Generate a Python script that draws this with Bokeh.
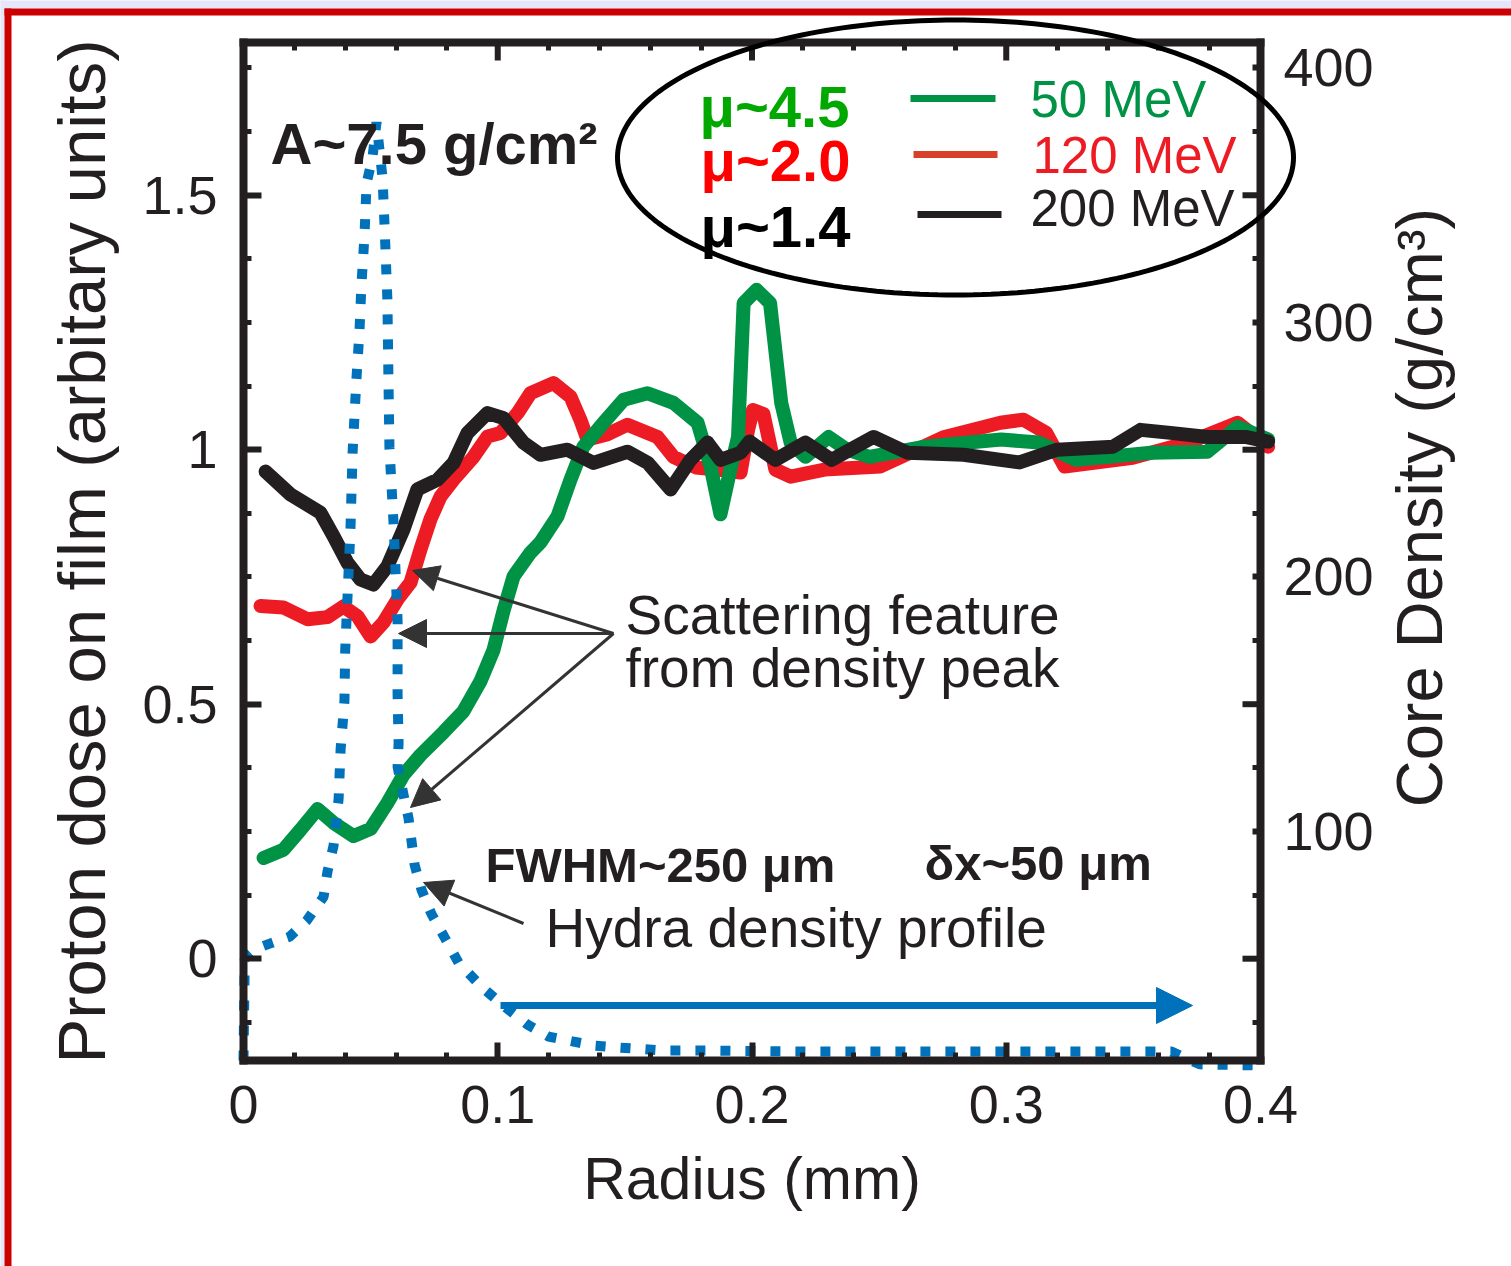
import numpy as np
from bokeh.plotting import figure
from bokeh.models import (Range1d, LinearAxis, FixedTicker, BoxAnnotation, PolyAnnotation,
                          Arrow, NormalHead, Label)
from bokeh.embed import file_html
from bokeh.resources import INLINE

# ---------------- data ----------------
radius_50 = [0.0079, 0.0157, 0.0224, 0.0291, 0.0354, 0.0433, 0.050, 0.0566, 0.0629, 0.0696,
             0.0787, 0.0865, 0.0932, 0.0983, 0.1023, 0.1062, 0.1129, 0.1168, 0.1235, 0.1286,
             0.1337, 0.1416, 0.1495, 0.1589, 0.1691, 0.1786, 0.1837, 0.1876, 0.1915, 0.1945,
             0.1967, 0.2018, 0.2071, 0.2115, 0.2152, 0.221, 0.2301, 0.2374, 0.2462, 0.268,
             0.298, 0.3127, 0.3275, 0.357, 0.379, 0.391, 0.403]
dose_50 = [0.198, 0.214, 0.253, 0.294, 0.267, 0.241, 0.255, 0.306, 0.361, 0.400,
           0.445, 0.486, 0.545, 0.606, 0.684, 0.751, 0.798, 0.818, 0.869, 0.941,
           1.006, 1.053, 1.098, 1.111, 1.092, 1.053, 0.967, 0.873, 0.961, 1.025,
           1.288, 1.314, 1.288, 1.092, 1.014, 0.986, 1.025, 1.000, 0.986, 1.006,
           1.020, 1.014, 0.980, 0.994, 0.996, 1.045, 1.020]

radius_120 = [0.0067, 0.0157, 0.0252, 0.033, 0.0393, 0.0448, 0.050, 0.0551, 0.0606, 0.0657,
              0.0696, 0.0735, 0.0775, 0.0826, 0.0905, 0.096, 0.1011, 0.1078, 0.1129, 0.1219,
              0.1286, 0.1325, 0.1353, 0.1430, 0.151, 0.1628, 0.1691, 0.1780, 0.1880, 0.1955,
              0.1985, 0.2004, 0.2045, 0.2092, 0.2152, 0.2285, 0.2505, 0.2757, 0.2977, 0.3068,
              0.3157, 0.3229, 0.3497, 0.3717, 0.391, 0.403]
dose_120 = [0.693, 0.690, 0.667, 0.671, 0.692, 0.673, 0.633, 0.661, 0.706, 0.739,
            0.804, 0.863, 0.908, 0.941, 0.986, 1.026, 1.033, 1.072, 1.111, 1.131,
            1.104, 1.059, 1.020, 1.030, 1.049, 1.025, 0.986, 0.965, 0.960, 0.955,
            1.040, 1.078, 1.070, 0.961, 0.947, 0.961, 0.967, 1.025, 1.053, 1.059,
            1.033, 0.967, 0.984, 1.014, 1.053, 1.006]

radius_200 = [0.0087, 0.0185, 0.0303, 0.0354, 0.0409, 0.046, 0.0511, 0.0566, 0.0629, 0.0684,
              0.0763, 0.0826, 0.0881, 0.096, 0.1023, 0.1101, 0.1168, 0.1274, 0.1377, 0.151,
              0.159, 0.168, 0.1758, 0.1825, 0.1876, 0.1955, 0.199, 0.2092, 0.221, 0.2313,
              0.2478, 0.2612, 0.2832, 0.3052, 0.320, 0.342, 0.3528, 0.3646, 0.3792, 0.394, 0.403]
dose_200 = [0.957, 0.912, 0.876, 0.830, 0.778, 0.745, 0.735, 0.771, 0.843, 0.922,
            0.941, 0.974, 1.033, 1.072, 1.062, 1.014, 0.990, 1.000, 0.974, 0.996,
            0.974, 0.922, 0.980, 1.014, 0.980, 0.994, 1.016, 0.980, 1.014, 0.980,
            1.025, 0.994, 0.990, 0.975, 1.000, 1.006, 1.039, 1.033, 1.025, 1.025, 1.016]

hydra_r = [0.0, 0.0005, 0.0047, 0.0114, 0.0181, 0.0248, 0.0315, 0.0330, 0.0354, 0.0374,
           0.0382, 0.0397, 0.0400, 0.0421, 0.0429, 0.0444, 0.0456, 0.0464, 0.0476, 0.0484,
           0.0507, 0.0523, 0.0547, 0.0555, 0.0566, 0.0570, 0.0574, 0.0590, 0.0606, 0.0606,
           0.0610, 0.0606, 0.0649, 0.0673, 0.0700, 0.0739, 0.0794, 0.0846, 0.0940, 0.1027,
           0.1117, 0.1200, 0.1294, 0.1377, 0.1475, 0.1652, 0.1829, 0.2200, 0.2700, 0.3200,
           0.3650, 0.3760, 0.4020]
hydra_rho = [10.0, 50.0, 53.9, 56.3, 58.6, 64.9, 74.3, 84.1, 94.3, 112.7,
             132.4, 151.2, 171.2, 219.8, 248.8, 277.5, 296.3, 315.1, 334.3, 354.7,
             364.5, 378.6, 356.7, 337.5, 308.8, 278.6, 250.8, 221.4, 182.9, 153.9,
             134.7, 125.3, 105.3, 86.9, 77.1, 67.6, 57.8, 48.4, 38.6, 31.2,
             24.1, 19.4, 17.5, 15.9, 15.1, 13.9, 13.9, 13.5, 13.5, 13.5,
             13.5, 8.5, 8.0]

energy_labels = ["50 MeV", "120 MeV", "200 MeV"]
mu_labels = ["\u03bc~4.5", "\u03bc~2.0", "\u03bc~1.4"]

x_ticks = [0, 0.1, 0.2, 0.3, 0.4]
x_tick_labels = ["0", "0.1", "0.2", "0.3", "0.4"]
y_ticks = [0, 0.5, 1, 1.5]
y_tick_labels = ["0", "0.5", "1", "1.5"]
rho_ticks = [100, 200, 300, 400]
rho_tick_labels = ["100", "200", "300", "400"]
rho_long_ticks = [50, 150, 250, 350]

# ---------------- style ----------------
INK = "#231F20"
GREEN = "#009245"
RED = "#ED1C24"
BLUE = "#0072BC"
FONT = "Liberation Sans"

W, H = 1511, 1266
FL, FR, FT, FB = 243, 1260, 42, 1060     # pixel box of the axes
X0, X1 = 0.0, 0.4
Y0, Y1 = -0.2, 1.8
R0, R1 = 10.0, 410.0                     # core density range on the right

SX = (X1 - X0) / (FR - FL)
SY = (Y1 - Y0) / (FB - FT)
XS, XE = X0 - FL * SX, X1 + (W - FR) * SX
YS, YE = Y0 - (H - FB) * SY, Y1 + FT * SY
RS = R0 + (YS - Y0) / (Y1 - Y0) * (R1 - R0)
RE = R0 + (YE - Y0) / (Y1 - Y0) * (R1 - R0)


def dx(px):
    return XS + px * SX


def dy(py):
    return YE - py * SY


p = figure(width=W, height=H, x_range=Range1d(XS, XE), y_range=Range1d(YS, YE),
           output_backend="svg", toolbar_location=None,
           x_axis_location=None, y_axis_location=None,
           min_border=0, min_border_left=0, min_border_right=0,
           min_border_top=0, min_border_bottom=0,
           background_fill_color="white", border_fill_color="white",
           outline_line_color=None)
p.extra_y_ranges = {"rho": Range1d(RS, RE)}
p.xgrid.visible = False
p.ygrid.visible = False


def style_axis(ax, major_in, minor_in, standoff):
    ax.axis_line_width = 8
    ax.axis_line_color = INK
    ax.axis_line_cap = "square"
    ax.major_tick_line_width = 6
    ax.major_tick_line_color = INK
    ax.minor_tick_line_width = 5
    ax.minor_tick_line_color = INK
    ax.major_tick_in = major_in
    ax.major_tick_out = 0
    ax.minor_tick_in = minor_in
    ax.minor_tick_out = 0
    ax.major_label_text_font = FONT
    ax.major_label_text_font_size = "54px"
    ax.major_label_text_color = INK
    ax.major_label_standoff = standoff
    ax.axis_label_text_font = FONT
    ax.axis_label_text_font_style = "normal"
    ax.axis_label_text_color = INK


x_minor = [round(0.02 * i, 2) for i in range(21) if i % 5]
y_minor = [-0.125 + 0.125 * i for i in range(16) if (i - 1) % 4]
rho_minor = [25 * i for i in range(1, 17) if i % 4]

bottom = LinearAxis(fixed_location=Y0, bounds=(X0, X1),
                    ticker=FixedTicker(ticks=x_ticks, minor_ticks=x_minor),
                    major_label_overrides=dict(zip(x_ticks, x_tick_labels)),
                    axis_label="Radius (mm)")
style_axis(bottom, 18, 8, 25)
bottom.axis_label_text_font_size = "59px"
bottom.axis_label_standoff = 20
p.add_layout(bottom, "below")

left = LinearAxis(fixed_location=X0, bounds=(Y0, Y1),
                  ticker=FixedTicker(ticks=y_ticks, minor_ticks=y_minor),
                  major_label_overrides=dict(zip(y_ticks, y_tick_labels)),
                  axis_label="Proton dose on film (arbitary units)")
style_axis(left, 18, 8, 26)
left.axis_label_text_font_size = "67px"
left.axis_label_standoff = 20
p.add_layout(left, "left")

# top axis: only tick marks (all drawn as minor ticks + long ticks below)
top = LinearAxis(fixed_location=Y1, bounds=(X0, X1),
                 ticker=FixedTicker(ticks=[], minor_ticks=x_minor))
style_axis(top, 18, 8, 0)
p.add_layout(top, "above")
p.segment(x0=x_ticks, x1=x_ticks, y0=[Y1] * len(x_ticks),
          y1=[Y1 - 18 * SY] * len(x_ticks), line_color=INK, line_width=6)

right = LinearAxis(y_range_name="rho", fixed_location=X1, bounds=(R0, R1),
                   ticker=FixedTicker(ticks=rho_ticks, minor_ticks=rho_minor),
                   major_label_overrides=dict(zip(rho_ticks, rho_tick_labels)))
style_axis(right, 8, 8, 23)
p.add_layout(right, "right")
# long mirrored ticks on the right axis
p.segment(x0=[X1 - 18 * SX] * len(rho_long_ticks), x1=[X1] * len(rho_long_ticks),
          y0=rho_long_ticks, y1=rho_long_ticks, y_range_name="rho",
          line_color=INK, line_width=6)

# ---------------- page frame (lavender edge + red border) ----------------
for l, r, t, b, c in [(-2, W + 50, -2, 8, "#E6E6FA"), (-2, 4, -2, H + 50, "#E6E6FA"),
                      (4, W + 50, 8, 15, "#CC0000"), (4, 11, 8, H + 50, "#CC0000")]:
    p.add_layout(BoxAnnotation(left=dx(l), right=dx(r), top=dy(t), bottom=dy(b),
                               fill_color=c, fill_alpha=1.0, line_color=None,
                               level="overlay"))

# ---------------- text annotations ----------------
BASE_SHIFT = 0.38   # baseline correction (in em) for Label placement


def add_label(px, py, text, size, color=INK, bold=False):
    p.add_layout(Label(x=dx(px), y=dy(py - BASE_SHIFT * size), text=text, text_font=FONT,
                       text_font_size=f"{size}px", text_color=color,
                       text_font_style="bold" if bold else "normal",
                       text_baseline="alphabetic", text_align="left", level="glyph"))


add_label(270, 165, "A~7.5 g/cm\u00b2", 58, bold=True)
add_label(625, 635, "Scattering feature", 55)
add_label(625, 688, "from density peak", 55)
add_label(485, 883, "FWHM~250 \u03bcm", 49, bold=True)
add_label(924, 881, "\u03b4x~50 \u03bcm", 49, bold=True)
add_label(545, 948, "Hydra density profile", 55)

# ---------------- curves ----------------
p.line(radius_120, dose_120, line_color=RED, line_width=14, line_join="round", line_cap="round")
p.line(radius_50, dose_50, line_color=GREEN, line_width=14, line_join="round", line_cap="round")
p.line(radius_200, dose_200, line_color=INK, line_width=14, line_join="round", line_cap="round")
p.line(hydra_r, hydra_rho, y_range_name="rho", line_color=BLUE, line_width=10,
       line_dash="10 15")

# ---------------- arrows ----------------
def add_arrow(x0, y0, x1, y1, color, width, size):
    p.add_layout(Arrow(end=NormalHead(size=size, fill_color=color, line_color=color),
                       x_start=dx(x0), y_start=dy(y0), x_end=dx(x1), y_end=dy(y1),
                       line_color=color, line_width=width))


add_arrow(613, 633, 412, 570, "#333333", 3, 26)
add_arrow(613, 633, 398, 633, "#333333", 3, 28)
add_arrow(613, 633, 410, 807, "#333333", 3, 28)
add_arrow(523, 923, 423, 882, "#333333", 3, 28)
add_arrow(500, 1005, 1192, 1005, BLUE, 7, 36)

# ---------------- legend inside ellipse ----------------
t = np.linspace(0, 2 * np.pi, 241)
cx, cy, ax_, by_ = 955, 157, 338, 137.5
p.add_layout(PolyAnnotation(xs=list(dx(cx + ax_ * np.cos(t))), ys=list(dy(cy + by_ * np.sin(t))),
                            fill_color=None, fill_alpha=0, line_color="black", line_alpha=1.0,
                            line_width=5, level="overlay"))

legend_colors = [GREEN, "#D9402A", INK]
mu_colors = ["#00A800", "#FF0000", "black"]
text_colors = [GREEN, RED, INK]
line_px = [(910, 995, 98), (913, 997, 154), (917, 1001, 214)]
mu_px = [(699, 128), (700, 182), (700, 248)]
txt_px = [(1030, 118), (1032, 174), (1030, 227)]
for i in range(3):
    x0, x1, yy = line_px[i]
    p.line([dx(x0), dx(x1)], [dy(yy), dy(yy)], line_color=legend_colors[i], line_width=7)
    add_label(mu_px[i][0], mu_px[i][1], mu_labels[i], 58, color=mu_colors[i], bold=True)
    add_label(txt_px[i][0], txt_px[i][1], energy_labels[i], 51, color=text_colors[i])

# right axis title (reads bottom to top, baseline near x=1444)
p.add_layout(Label(x=dx(1444 - BASE_SHIFT * 65), y=dy(507), text="Core Density (g/cm\u00b3)",
                   text_font=FONT, text_font_size="65px", text_color=INK, text_align="center",
                   text_baseline="alphabetic", angle=90, angle_units="deg"))

open("out.html", "w").write(file_html(p, INLINE))
